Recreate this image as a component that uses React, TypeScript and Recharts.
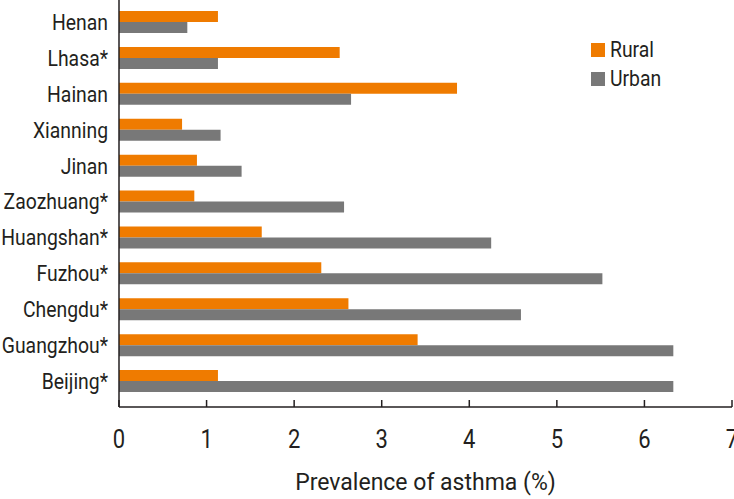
import React from 'react';
import { BarChart, Bar, XAxis, YAxis } from 'recharts';

const cities = ['Henan', 'Lhasa*', 'Hainan', 'Xianning', 'Jinan', 'Zaozhuang*', 'Huangshan*', 'Fuzhou*', 'Chengdu*', 'Guangzhou*', 'Beijing*'];
const rural = [1.13, 2.52, 3.86, 0.72, 0.89, 0.86, 1.63, 2.31, 2.62, 3.41, 1.13];
const urban = [0.78, 1.13, 2.65, 1.16, 1.4, 2.57, 4.25, 5.52, 4.59, 6.33, 6.33];
const xTicks = [0, 1, 2, 3, 4, 5, 6, 7];

const FONT = 'Roboto, sans-serif';
const INK = '#231f20';
const ORANGE = '#EF7B00';
const GRAY = '#787878';
const SQUEEZE = 0.88; // reference uses a condensed face

const data = cities.map((name, i) => ({ name, rural: rural[i], urban: urban[i] }));

// category labels, squeezed horizontally, right-aligned at the tick
function CityTick(props: any) {
    const { x, y, payload } = props;
    return (
        <g transform={`translate(${x},${y}) scale(${SQUEEZE},1)`}>
            <text textAnchor="end" dy="0.36em" fill={INK} fontSize={22} fontFamily={FONT}>
                {payload.value}
            </text>
        </g>
    );
}

function ValueTick(props: any) {
    const { x, y, payload } = props;
    return (
        <g transform={`translate(${x},${y}) scale(${SQUEEZE},1)`}>
            <text textAnchor="middle" dy="0.71em" fill={INK} fontSize={25} fontFamily={FONT}>
                {payload.value}
            </text>
        </g>
    );
}

function LegendBox() {
    const items = [
        { label: 'Rural', color: ORANGE },
        { label: 'Urban', color: GRAY },
    ];
    return (
        <div style={{ position: 'absolute', left: 591, top: 35, fontFamily: FONT, fontSize: 22, color: INK }}>
            {items.map((it) => (
                <div key={it.label} style={{ display: 'flex', alignItems: 'center', height: 29 }}>
                    <span style={{ width: 14, height: 14, background: it.color, display: 'inline-block', marginRight: 5 }} />
                    <span style={{ display: 'inline-block', transform: `scaleX(${SQUEEZE})`, transformOrigin: 'left center' }}>{it.label}</span>
                </div>
            ))}
        </div>
    );
}

export default function App() {
    return (
        <div style={{ position: 'absolute', left: 0, top: 0, width: 734, height: 499, background: '#fff' }}>
            <BarChart
                width={734}
                height={499}
                data={data}
                layout="vertical"
                margin={{ top: 0, right: 2, left: 0, bottom: 0 }}
                barGap={0}
                barSize={11}
            >
                <XAxis
                    type="number"
                    domain={[0, 7]}
                    ticks={xTicks}
                    interval={0}
                    height={92}
                    axisLine={{ stroke: INK, strokeWidth: 1.5 }}
                    tickLine={{ stroke: INK, strokeWidth: 1.5 }}
                    tickSize={-7}
                    tickMargin={30}
                    tick={<ValueTick />}
                    label={{ value: 'Prevalence of asthma (%)', position: 'insideBottom', offset: 9, fill: INK, fontSize: 23, fontFamily: FONT }}
                />
                <YAxis
                    type="category"
                    dataKey="name"
                    width={119}
                    padding={{ top: 4, bottom: 8 }}
                    axisLine={{ stroke: INK, strokeWidth: 1.5 }}
                    tickLine={false}
                    tickSize={0}
                    tickMargin={11}
                    interval={0}
                    tick={<CityTick />}
                />
                <Bar dataKey="rural" fill={ORANGE} isAnimationActive={false} />
                <Bar dataKey="urban" fill={GRAY} isAnimationActive={false} />
            </BarChart>
            <LegendBox />
        </div>
    );
}
